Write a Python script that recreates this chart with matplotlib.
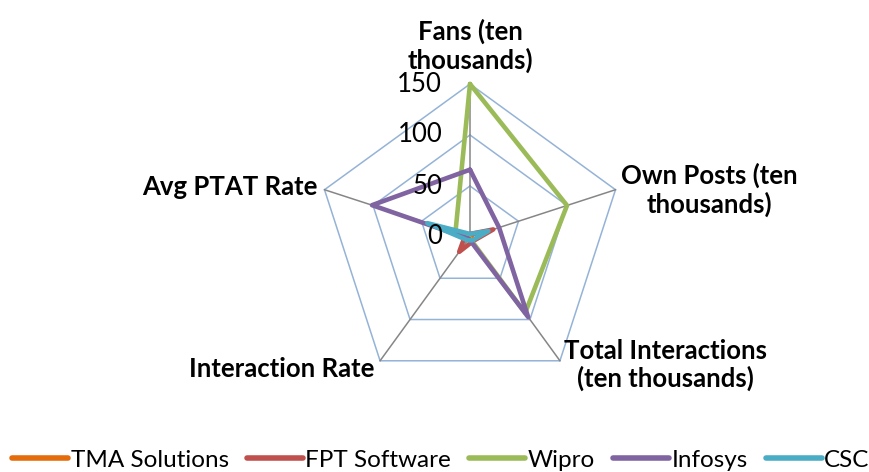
import numpy as np
import matplotlib
matplotlib.use('Agg')
import matplotlib.pyplot as plt
from matplotlib.lines import Line2D

plt.rcParams['font.family'] = ['Lato', 'DejaVu Sans']

categories = ['Fans (ten\nthousands)', 'Own Posts (ten\nthousands)',
              'Total Interactions\n(ten thousands)', 'Interaction Rate', 'Avg PTAT Rate']
companies = ['TMA Solutions', 'FPT Software', 'Wipro', 'Infosys', 'CSC']
tma = [1, 2, 1, 1, 2]
fpt = [3, 24, 5, 18, 5]
wipro = [150, 100, 92, 1, 15]
infosys = [66, 30, 97, 2, 101]
csc = [3, 19, 4, 4, 44]
ticks = [0, 50, 100, 150]
colors = ['#E46C0A', '#C0504D', '#9BBB59', '#8064A2', '#4BACC6']

ring_color = '#95B3D7'
spoke_color = '#868686'

fig = plt.figure(figsize=(8.7, 4.72), dpi=100)
cx, cy, rad = 470, 237, 153
ax = fig.add_axes([(cx - rad) / 870, (472 - cy - rad) / 472, 2 * rad / 870, 2 * rad / 472],
                  projection='polar')
ax.set_theta_offset(np.pi / 2)
ax.set_theta_direction(-1)
ax.set_ylim(0, 150)
ax.grid(False)
ax.set_xticks([])
ax.set_yticks([])
ax.spines['polar'].set_visible(False)
ax.patch.set_visible(False)

n = len(categories)
angles = np.arange(n) * 2 * np.pi / n
closed = np.append(angles, angles[0])

# pentagon rings and spokes
for r in ticks[1:]:
    ax.plot(closed, [r] * (n + 1), color=ring_color, lw=1.1, clip_on=False, zorder=1)
for a in angles:
    ax.plot([a, a], [0, 150], color=spoke_color, lw=1.1, clip_on=False, zorder=1)

# series
for vals, name, c in zip([tma, fpt, wipro, infosys, csc], companies, colors):
    v = np.append(vals, vals[0])
    ax.plot(closed, v, color=c, lw=3.3, solid_joinstyle='round', solid_capstyle='round',
            clip_on=False, zorder=3, label=name)

# radial tick labels
for t in ticks:
    ax.annotate(str(t), (0, t), xytext=(-20, 0), textcoords='offset points',
                ha='right', va='center', fontsize=18.5, color='#000000')

# category labels
lab = dict(fontsize=18.5, fontweight='bold', multialignment='center', linespacing=1.15)
ax.annotate(categories[0], (angles[0], 150), xytext=(0, 8), textcoords='offset points',
            ha='center', va='bottom', **lab)
ax.annotate(categories[1], (angles[1], 150), xytext=(4, 0), textcoords='offset points',
            ha='left', va='center', **lab)
ax.annotate(categories[2], (angles[2], 150), xytext=(3, -3), textcoords='offset points',
            ha='left', va='center', **lab)
ax.annotate(categories[3], (angles[3], 150), xytext=(-4, -6), textcoords='offset points',
            ha='right', va='center', **lab)
ax.annotate(categories[4], (angles[4], 150), xytext=(-5, 2), textcoords='offset points',
            ha='right', va='center', **lab)

handles = [Line2D([], [], color=c, lw=4, solid_capstyle='round') for c in colors]
fig.legend(handles, companies, loc='center', bbox_to_anchor=(0.5 + 6 / 870, 1 - 460 / 472), ncol=5,
           frameon=False, fontsize=17.5, handlelength=2.3, handletextpad=0.1,
           columnspacing=0.75, borderaxespad=0)

fig.savefig('out.png', dpi=100)
